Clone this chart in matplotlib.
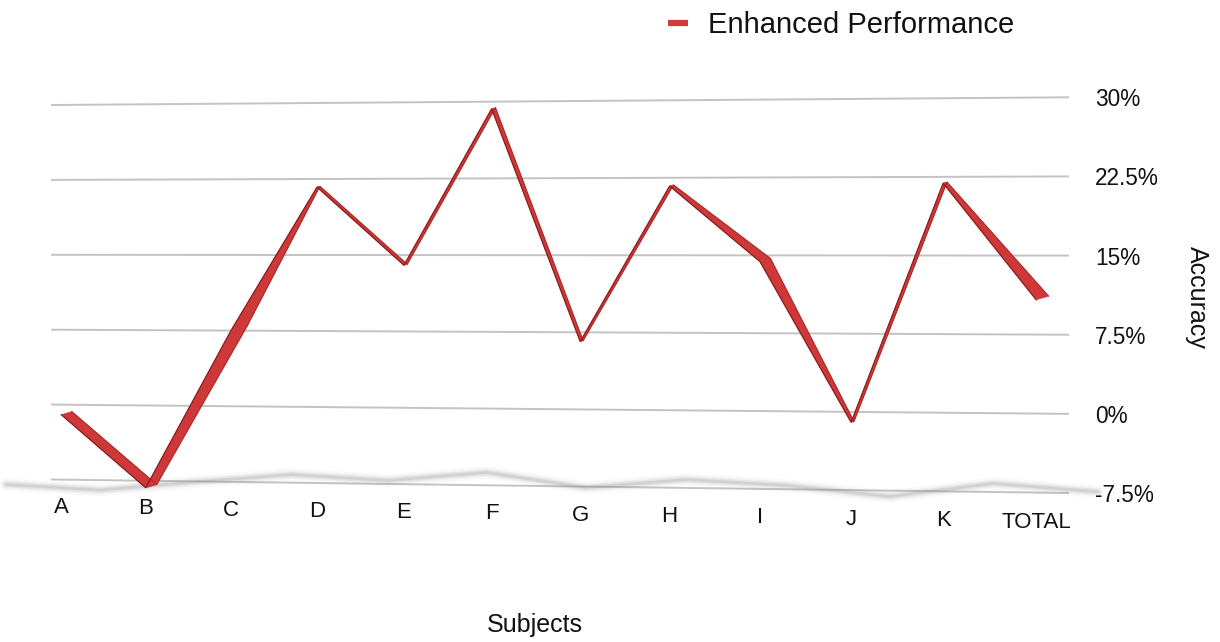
import numpy as np
import matplotlib
matplotlib.use("Agg")
import matplotlib.pyplot as plt
from matplotlib.transforms import Transform, IdentityTransform
from matplotlib.lines import Line2D
from matplotlib.patches import Polygon

# ---- data -------------------------------------------------------------
categories = ["A", "B", "C", "D", "E", "F", "G", "H", "I", "J", "K", "TOTAL"]
accuracy = [-1.0, -8.2, 7.5, 21.7, 14.0, 29.3, 6.6, 21.7, 14.4, -1.0, 21.9, 10.8]
grid_values = [30, 22.5, 15, 7.5, 0, -7.5]
grid_labels = ["30%", "22.5%", "15%", "7.5%", "0%", "-7.5%"]
series_name = "Enhanced Performance"
x_title = "Subjects"
y_title = "Accuracy"

# ---- style ------------------------------------------------------------
# visible depth of the 3D ribbon at each vertex (pixels)
ribbon_depth = [11, 11.5, 17, 3, 3.5, 4, 3, 4, 11, 3, 4, 13]
ribbon_dir = np.array([0.96, 0.28])
RED = "#cf3838"
EDGE = "#8a1e1e"
GRID = "#c3c3c3"
TEXT = "#111111"

W, H, DPI = 1220, 642, 100
plt.rcParams["font.family"] = ["Liberation Sans", "DejaVu Sans"]


class Perspective(Transform):
    """Projective map taking the unit square onto a quadrilateral."""
    input_dims = 2
    output_dims = 2
    is_separable = False

    def __init__(self, src, dst):
        super().__init__()
        rows, rhs = [], []
        for (x, y), (u, v) in zip(src, dst):
            rows.append([x, y, 1, 0, 0, 0, -u * x, -u * y]); rhs.append(u)
            rows.append([0, 0, 0, x, y, 1, -v * x, -v * y]); rhs.append(v)
        h = np.linalg.solve(np.array(rows, float), np.array(rhs, float))
        self.M = np.append(h, 1.0).reshape(3, 3)

    def transform_non_affine(self, values):
        v = np.asarray(values, float).reshape(-1, 2)
        p = np.column_stack([v, np.ones(len(v))]) @ self.M.T
        return p[:, :2] / p[:, 2:3]


fig = plt.figure(figsize=(W / DPI, H / DPI), dpi=DPI)
fig.patch.set_facecolor("white")

# plot box in pixels measured from the top-left corner
box_l, box_r, box_t, box_b = 52, 1068, 97, 493
ax = fig.add_axes([box_l / W, 1 - box_b / H, (box_r - box_l) / W, (box_b - box_t) / H])
ax.set_axis_off()
ax.set_xlim(-0.11, 11.34)
ax.set_ylim(-7.5, 30)


def frac(px, py):
    return ((px - box_l) / (box_r - box_l), (box_b - py) / (box_b - box_t))


tilt = Perspective([(0, 1), (1, 1), (0, 0), (1, 0)],
                   [frac(52, 105), frac(1068, 97.3), frac(52, 479.5), frac(1068, 493)])
T = ax.transScale + ax.transLimits + tilt + ax.transAxes

x_lo, x_hi = ax.get_xlim()
n = len(categories)
xi = np.arange(n)

# gridlines and value labels
for v, lab in zip(grid_values, grid_labels):
    ax.add_line(Line2D([x_lo, x_hi], [v, v], transform=T, color=GRID, lw=1.4,
                       clip_on=False, zorder=1))
    ax.text(11.63, v, lab, transform=T, ha="left", va="center_baseline",
            fontsize=16.3, color=TEXT, clip_on=False)

# category labels
for i, cat in enumerate(categories):
    ax.text(i, -10.3, cat, transform=T, ha="center", va="center",
            fontsize=16, color=TEXT, clip_on=False)

# soft floor shadow under the ribbon
shadow_x = 5.5 + 1.12 * (xi - 5.5)
shadow_y = -8.0 + 0.06 * np.asarray(accuracy)
for lw, a in [(9, 0.05), (6, 0.08), (4, 0.12), (2, 0.2)]:
    ax.add_line(Line2D(shadow_x, shadow_y, transform=T, color="#8c8c8c", lw=lw,
                       alpha=a, solid_joinstyle="round", solid_capstyle="round",
                       clip_on=False, zorder=2))

# 3D ribbon: front edge from the data, back edge pushed into depth
front = T.transform(np.column_stack([xi, accuracy]))
back = front + np.asarray(ribbon_depth)[:, None] * ribbon_dir / np.linalg.norm(ribbon_dir)
for i in range(n - 1):
    quad = [front[i], front[i + 1], back[i + 1], back[i]]
    ax.add_patch(Polygon(quad, closed=True, transform=IdentityTransform(),
                         facecolor=RED, edgecolor=RED, lw=0.4, clip_on=False, zorder=3))
ax.add_line(Line2D(back[:, 0], back[:, 1], transform=IdentityTransform(),
                   color="#a82525", lw=0.7, clip_on=False, zorder=4))
ax.add_line(Line2D(xi, accuracy, transform=T, color=EDGE, lw=0.9,
                   solid_joinstyle="miter", clip_on=False, zorder=4))

# axis titles
fig.text(535 / W, 1 - 625 / H, x_title, ha="center", va="center", fontsize=18, color=TEXT)
fig.text(1197 / W, 1 - 297 / H, y_title, ha="center", va="center", rotation=270,
         fontsize=18, color=TEXT)

# legend
handle = Line2D([], [], color="#d13c3c", lw=4.5, solid_capstyle="butt")
fig.legend([handle], [series_name], loc="center left",
           bbox_to_anchor=(668 / W, 1 - 25 / H), frameon=False, fontsize=21,
           handlelength=0.68, handletextpad=0.68, borderpad=0, borderaxespad=0,
           labelcolor=TEXT)

fig.savefig("out.png", dpi=DPI, facecolor="white")
